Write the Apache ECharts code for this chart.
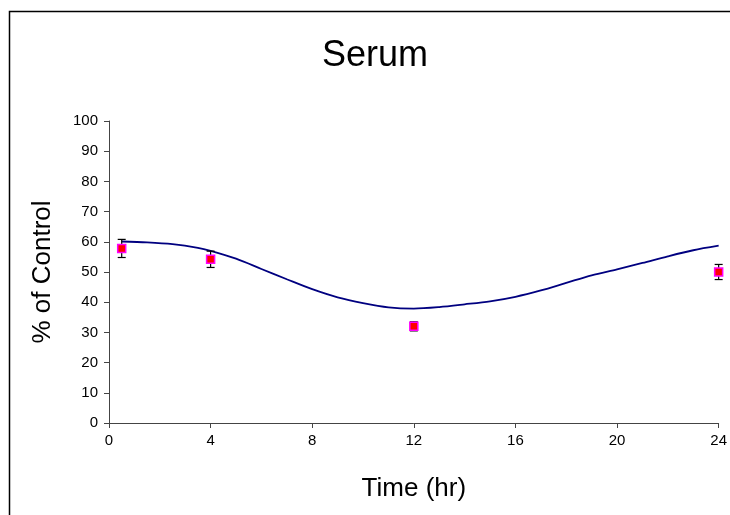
<!DOCTYPE html>
<html>
<head>
<meta charset="utf-8">
<script src="https://cdn.jsdelivr.net/npm/echarts@6/dist/echarts.min.js"></script>
<style>
html,body{margin:0;padding:0;background:#fff;}
#c{width:730px;height:515px;}
</style>
</head>
<body>
<div id="c"></div>
<script>
// Model curve (time in hr, % of control)
var curveTime  = [0.5, 1.5, 2.5, 3.5, 4, 5, 6, 7, 8, 9, 10, 11, 12, 13, 14, 15, 16, 17, 18, 19, 20, 21, 22, 23, 24];
var curveValue = [60.1, 59.8, 59.2, 58.0, 57.0, 54.4, 51.0, 47.6, 44.3, 41.6, 39.7, 38.3, 37.9, 38.4, 39.3, 40.3, 41.8, 43.9, 46.4, 48.9, 50.9, 53.0, 55.2, 57.2, 58.7];
// Observed data with error bars
var obsTime  = [0.5, 4, 12, 24];
var obsValue = [57.8, 54.2, 32.0, 50.0];
var obsError = [3.0, 2.7, 1.5, 2.5];
var xTicks = [0, 4, 8, 12, 16, 20, 24];

var font = '"Liberation Sans", Arial, sans-serif';
var curveData = curveTime.map(function(t, i){ return [t, curveValue[i]]; });
var obsData = obsTime.map(function(t, i){ return [t, obsValue[i]]; });
var errData = obsTime.map(function(t, i){ return [t, obsValue[i] - obsError[i], obsValue[i] + obsError[i]]; });

var chart = echarts.init(document.getElementById('c'), null, {renderer: 'canvas'});
chart.setOption({
  animation: false,
  backgroundColor: '#fff',
  graphic: [{
    type: 'rect', left: 7, top: 9, z: 100,
    shape: {width: 800, height: 600},
    style: {fill: 'none', stroke: '#000', lineWidth: 1.5}
  }, {
    type: 'text', left: 322, top: 38, z: 100,
    style: {text: 'Serum', font: '36px "Liberation Sans", Arial, sans-serif', fill: '#000'}
  }],
  grid: {left: 109, right: 11, top: 121, bottom: 92},
  xAxis: {
    type: 'value', min: 0, max: 24, interval: 4,
    name: 'Time (hr)', nameLocation: 'middle', nameGap: 53,
    nameTextStyle: {fontFamily: font, fontSize: 26, color: '#000'},
    axisLine: {lineStyle: {color: '#444', width: 1}},
    axisTick: {show: true, length: 5, lineStyle: {color: '#444'}},
    axisLabel: {fontFamily: font, fontSize: 15, color: '#000', margin: 10,
      formatter: function(v){ return xTicks.indexOf(v) >= 0 ? String(v) : ''; }},
    splitLine: {show: false}
  },
  yAxis: {
    type: 'value', min: 0, max: 100, interval: 10,
    name: '% of Control', nameLocation: 'middle', nameGap: 53,
    nameTextStyle: {fontFamily: font, fontSize: 26, color: '#000'},
    axisLine: {show: true, lineStyle: {color: '#444', width: 1}},
    axisTick: {show: true, length: 5, lineStyle: {color: '#444'}},
    axisLabel: {fontFamily: font, fontSize: 15, color: '#000', margin: 11},
    splitLine: {show: false}
  },
  series: [{
    type: 'line', data: curveData, smooth: 0.3, symbol: 'none',
    lineStyle: {color: '#000080', width: 1.8}, z: 2
  }, {
    type: 'custom', data: errData, z: 3,
    renderItem: function(params, api){
      var x = api.value(0);
      var lo = api.coord([x, api.value(1)]);
      var hi = api.coord([x, api.value(2)]);
      var w = 4;
      var st = {stroke: '#000', lineWidth: 1.2};
      return {type: 'group', children: [
        {type: 'line', shape: {x1: lo[0], y1: lo[1], x2: hi[0], y2: hi[1]}, style: st},
        {type: 'line', shape: {x1: lo[0]-w, y1: lo[1], x2: lo[0]+w, y2: lo[1]}, style: st},
        {type: 'line', shape: {x1: hi[0]-w, y1: hi[1], x2: hi[0]+w, y2: hi[1]}, style: st}
      ]};
    }
  }, {
    type: 'scatter', data: obsData, symbol: 'rect', symbolSize: 8, z: 4,
    itemStyle: {color: '#ff0000', borderColor: '#ff00ff', borderWidth: 1.5, opacity: 1}
  }]
});
</script>
</body>
</html>
